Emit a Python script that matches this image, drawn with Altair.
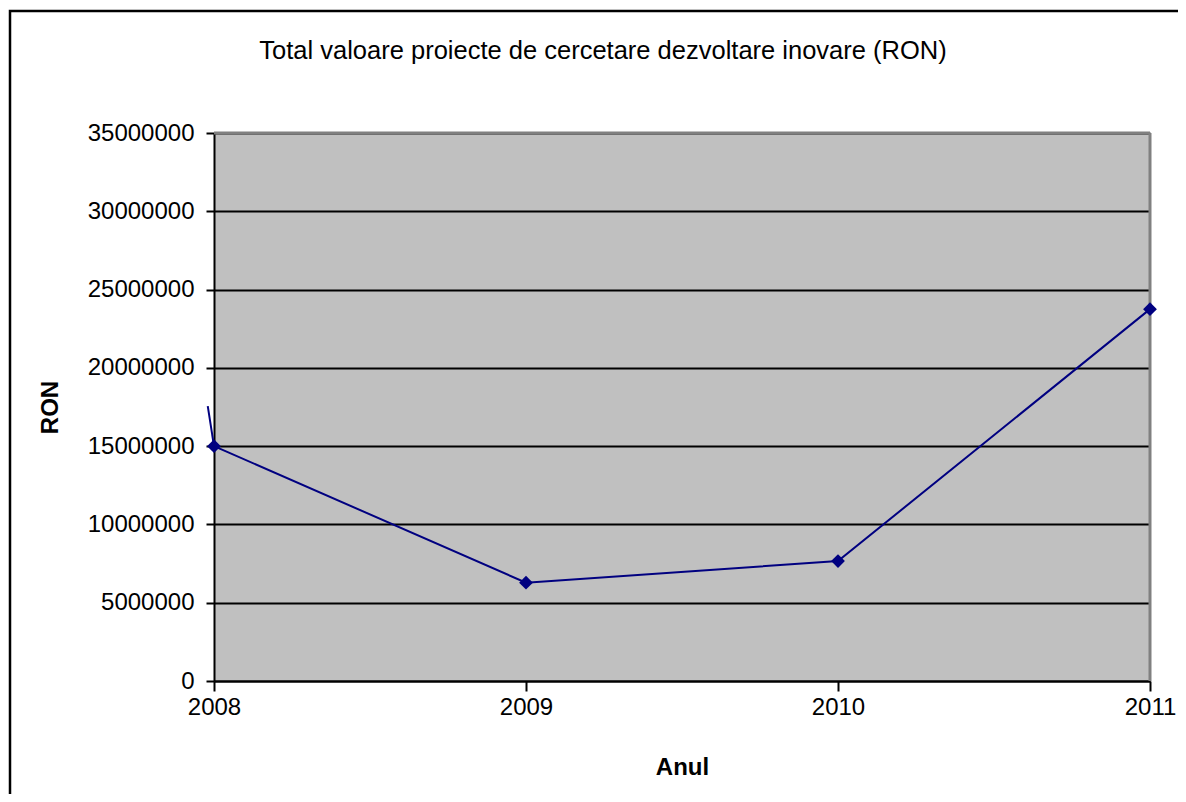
import altair as alt
import pandas as pd

years = [2008, 2009, 2010, 2011]
values = [15000000, 6280000, 7660000, 23750000]
stub_years = [2008, 2007.98]
stub_values = [15000000, 17560000]
y_ticks = [0, 5000000, 10000000, 15000000, 20000000, 25000000, 30000000, 35000000]

title_text = "Total valoare proiecte de cercetare dezvoltare inovare (RON)"
FONT = "Liberation Sans"
FS = 24
W, H = 936, 548

df = pd.DataFrame({"Anul": years, "RON": values})
stub = pd.DataFrame({"Anul": stub_years, "RON": stub_values})

xs = alt.Scale(domain=[2008, 2011], nice=False, zero=False)
ys = alt.Scale(domain=[0, 35000000], nice=False)

xax = alt.Axis(values=years, format="d", title="Anul", grid=False,
               labelFont=FONT, labelFontSize=FS, labelColor="black", labelPadding=4,
               tickSize=10, tickColor="black", tickWidth=2,
               domainColor="black", domainWidth=2,
               titleFont=FONT, titleFontSize=FS, titleFontWeight="bold", titleColor="black",
               titlePadding=36, labelFlush=False)
yax = alt.Axis(values=y_ticks, format="d", title="RON", grid=True, gridColor="black", gridWidth=2,
               labelFont=FONT, labelFontSize=FS, labelColor="black", labelPadding=12,
               tickSize=8, tickColor="black", tickWidth=2,
               domainColor="black", domainWidth=2,
               titleFont=FONT, titleFontSize=FS, titleFontWeight="bold", titleColor="black",
               titlePadding=25)

base = alt.Chart(df)

line = base.mark_line(color="#000080", strokeWidth=2).encode(
    x=alt.X("Anul:Q", scale=xs, axis=xax),
    y=alt.Y("RON:Q", scale=ys, axis=yax),
)
pts = base.mark_point(shape="diamond", filled=True, color="#000080", size=190, opacity=1).encode(
    x=alt.X("Anul:Q", scale=xs),
    y=alt.Y("RON:Q", scale=ys),
)
stub_line = alt.Chart(stub).mark_line(color="#000080", strokeWidth=2, clip=False, interpolate="monotone").encode(
    x=alt.X("Anul:Q", scale=xs),
    y=alt.Y("RON:Q", scale=ys),
)

# top and right edges of the plot area in grey
edge = alt.Chart(pd.DataFrame({"a": [0]})).mark_rule(color="#808080", strokeWidth=3).encode(
    x=alt.value(0), x2=alt.value(W), y=alt.value(0), y2=alt.value(0))
edge_r = alt.Chart(pd.DataFrame({"a": [0]})).mark_rule(color="#808080", strokeWidth=3).encode(
    x=alt.value(W), x2=alt.value(W), y=alt.value(0), y2=alt.value(H))

# outer chart border
frame = alt.Chart(pd.DataFrame({"a": [0]})).mark_rect(
    fill=None, stroke="black", strokeWidth=2.5, clip=False).encode(
    x=alt.value(-204), x2=alt.value(1100), y=alt.value(-122), y2=alt.value(800))

title = alt.Chart(pd.DataFrame({"t": [title_text]})).mark_text(
    font=FONT, fontSize=25.5, color="black", align="center", baseline="middle").encode(
    x=alt.value(389), y=alt.value(-82), text="t:N")

chart = alt.layer(edge, edge_r, line, stub_line, pts, frame, title).properties(
    width=W, height=H,
    background="white",
    autosize=alt.AutoSizeParams(type="none"),
    padding={"left": 206, "top": 125, "right": 28, "bottom": 113},
).configure_view(fill="#C0C0C0", stroke=None)

chart.save("out.html", embed_options={"renderer": "svg", "actions": False})
